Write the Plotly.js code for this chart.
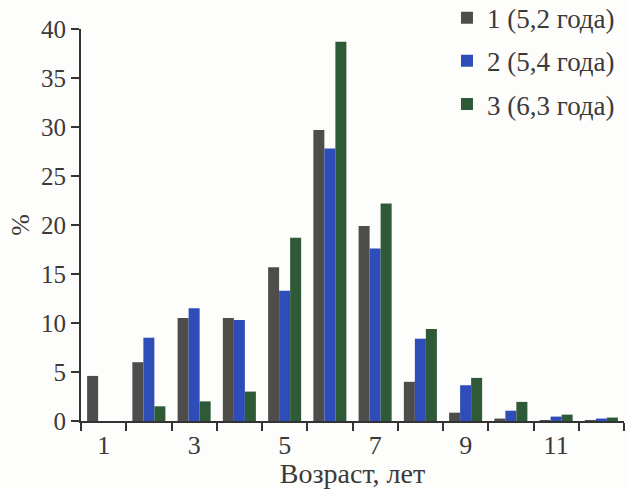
<!DOCTYPE html>
<html>
<head>
<meta charset="utf-8">
<script src="https://cdn.plot.ly/plotly-3.0.1.min.js"></script>
<style>html,body{margin:0;padding:0;background:#fdfdfb;}#chart{width:626px;height:489px;}</style>
</head>
<body>
<div id="chart"></div>
<script>
const ages = ['1','2','3','4','5','6','7','8','9','10','11','12'];
const tickLabels = ['1','','3','','5','','7','','9','','11',''];
const seriesNames = ['1 (5,2 года)', '2 (5,4 года)', '3 (6,3 года)'];
const series1 = [4.6, 6.0, 10.5, 10.5, 15.7, 29.7, 19.9, 4.0, 0.85, 0.25, 0.1, 0.1];
const series2 = [0, 8.5, 11.5, 10.3, 13.3, 27.8, 17.6, 8.4, 3.65, 1.05, 0.45, 0.25];
const series3 = [0, 1.5, 2.0, 3.0, 18.7, 38.7, 22.2, 9.4, 4.4, 1.95, 0.65, 0.35];
const colors = ['#4f4c4c', '#2f4db8', '#2e5a37'];

const allSeries = [series1, series2, series3];
const traces = allSeries.map((vals, i) => ({
  type: 'bar',
  x: ages,
  y: vals,
  name: seriesNames[i],
  legendgroup: 'g' + i,
  marker: {color: colors[i], line: {width: 0}},
  hoverinfo: 'x+y+name'
}));

const fam = 'Liberation Serif';
const txt = '#3a3a3a';

const layout = {
  width: 626, height: 489,
  paper_bgcolor: '#fdfdfb',
  plot_bgcolor: '#fdfdfb',
  font: {family: fam, size: 24, color: txt},
  margin: {l: 81, r: 2, t: 29, b: 68, autoexpand: false},
  barmode: 'group',
  bargap: 0.27,
  bargroupgap: 0,
  showlegend: true,
  legend: {
    x: 0.674, y: 1.09, xanchor: 'left', yanchor: 'top',
    bgcolor: 'rgba(0,0,0,0)',
    font: {family: fam, size: 27, color: txt},
    tracegroupgap: 5,
    itemwidth: 30
  },
  xaxis: {
    type: 'category',
    tickmode: 'array',
    tickvals: ages,
    ticktext: tickLabels,
    tickson: 'boundaries',
    ticks: 'outside',
    ticklen: 8,
    tickwidth: 2,
    tickcolor: '#333',
    showline: true,
    linecolor: '#333',
    linewidth: 2,
    showgrid: false,
    zeroline: false,
    tickfont: {family: fam, size: 26, color: txt},
    ticklabelstandoff: 0,
    title: {text: 'Возраст, лет', font: {family: fam, size: 28, color: txt}, standoff: 3}
  },
  yaxis: {
    range: [0, 40],
    tickvals: [0, 5, 10, 15, 20, 25, 30, 35, 40],
    ticks: 'outside',
    ticklen: 8,
    tickwidth: 2,
    tickcolor: '#333',
    showline: true,
    linecolor: '#333',
    linewidth: 2,
    showgrid: false,
    zeroline: false,
    tickfont: {family: fam, size: 25, color: txt},
    title: {text: '%', font: {family: fam, size: 26, color: txt}, standoff: 4}
  }
};

Plotly.newPlot('chart', traces, layout, {displayModeBar: false, staticPlot: true});
</script>
</body>
</html>
